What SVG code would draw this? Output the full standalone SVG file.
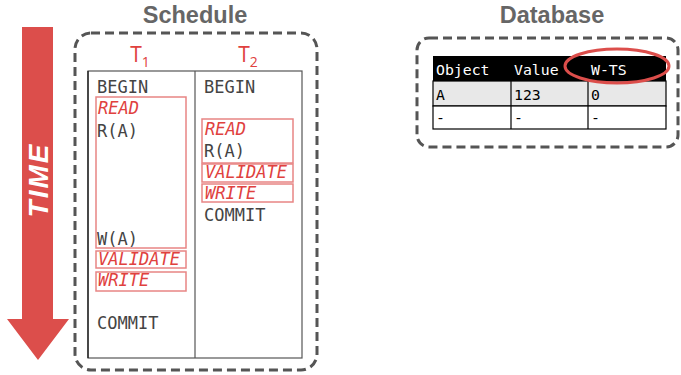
<svg xmlns="http://www.w3.org/2000/svg" width="681" height="375" viewBox="0 0 681 375">
<style>
.title{font-family:"Liberation Sans",Arial,sans-serif;font-weight:bold;font-size:23.5px;fill:#666;text-anchor:middle}
.mono{font-family:"DejaVu Sans Mono","Liberation Mono",monospace;font-size:17px;fill:#444}
.phase{font-family:"DejaVu Sans Mono","Liberation Mono",monospace;font-size:17px;font-style:italic;fill:#e0413e}
.tx{font-family:"Open Sans","Liberation Sans",sans-serif;font-size:21px;fill:#e0413e;text-anchor:middle}
.dash{fill:none;stroke:#555;stroke-width:3;stroke-dasharray:9 5}
.pbox{fill:none;stroke:#e88584;stroke-width:1.5}
.cell{font-family:"DejaVu Sans Mono","Liberation Mono",monospace;font-size:14.8px;fill:#000}
.hdr{font-family:"DejaVu Sans Mono","Liberation Mono",monospace;font-size:14.8px;fill:#fff}
</style>
<g id="time-arrow">
<polygon points="22,27 53,27 53,319 69,319 38,360 7,319 22,319" fill="#dc4e4b"/>
<text x="38" y="180" transform="rotate(-90 38 180)" text-anchor="middle" dominant-baseline="central" font-family="Liberation Sans,Arial,sans-serif" font-weight="bold" font-style="italic" font-size="28" letter-spacing="2" fill="#fff">TIME</text>
</g>
<g id="schedule">
<text class="title" x="195" y="23">Schedule</text>
<rect class="dash" x="75" y="33" width="242" height="337" rx="16"/>
<text class="tx" x="140" y="62">T<tspan font-size="14" dy="5">1</tspan></text>
<text class="tx" x="248" y="62">T<tspan font-size="14" dy="5">2</tspan></text>
<rect x="88" y="71" width="214" height="287" fill="none" stroke="#555" stroke-width="1.2"/>
<line x1="88" y1="71" x2="88" y2="358" stroke="#111" stroke-width="1.2"/>
<line x1="195" y1="71" x2="195" y2="358" stroke="#555" stroke-width="1.2"/>
</g>
<g id="t1">
<text class="mono" x="97" y="93">BEGIN</text>
<rect class="pbox" x="96" y="97" width="90" height="151"/>
<text class="phase" x="98" y="114">READ</text>
<text class="mono" x="97" y="137">R(A)</text>
<text class="mono" x="97" y="245">W(A)</text>
<rect class="pbox" x="96" y="251" width="90" height="17"/>
<text class="phase" x="98" y="265">VALIDATE</text>
<rect class="pbox" x="96" y="272" width="90" height="19"/>
<text class="phase" x="98" y="286">WRITE</text>
<text class="mono" x="97" y="329">COMMIT</text>
</g>
<g id="t2">
<text class="mono" x="204" y="93">BEGIN</text>
<rect class="pbox" x="202" y="119" width="91" height="44"/>
<text class="phase" x="205" y="135">READ</text>
<text class="mono" x="204" y="157">R(A)</text>
<rect class="pbox" x="202" y="164" width="91" height="18"/>
<text class="phase" x="205" y="178">VALIDATE</text>
<rect class="pbox" x="202" y="184" width="91" height="18"/>
<text class="phase" x="205" y="199">WRITE</text>
<text class="mono" x="204" y="221">COMMIT</text>
</g>
<g id="database">
<text class="title" x="552" y="23">Database</text>
<rect class="dash" x="417" y="38" width="261" height="109" rx="12"/>
<rect x="433" y="56" width="233" height="25" fill="#000"/>
<rect x="433" y="81" width="233" height="25" fill="#e8e8e8" stroke="#000" stroke-width="1.2"/>
<rect x="433" y="106" width="233" height="23" fill="#fff" stroke="#000" stroke-width="1.2"/>
<line x1="511" y1="56" x2="511" y2="129" stroke="#000" stroke-width="1.2"/>
<line x1="588" y1="56" x2="588" y2="129" stroke="#000" stroke-width="1.2"/>
<text class="hdr" x="436" y="75">Object</text>
<text class="hdr" x="514" y="75">Value</text>
<text class="hdr" x="591" y="75">W-TS</text>
<text class="cell" x="436" y="100">A</text>
<text class="cell" x="514" y="100">123</text>
<text class="cell" x="591" y="100">0</text>
<text class="cell" x="436" y="123">-</text>
<text class="cell" x="514" y="123">-</text>
<text class="cell" x="591" y="123">-</text>
<ellipse cx="617" cy="66" rx="52" ry="17" fill="none" stroke="#dc4e4b" stroke-width="3"/>
</g>
</svg>
